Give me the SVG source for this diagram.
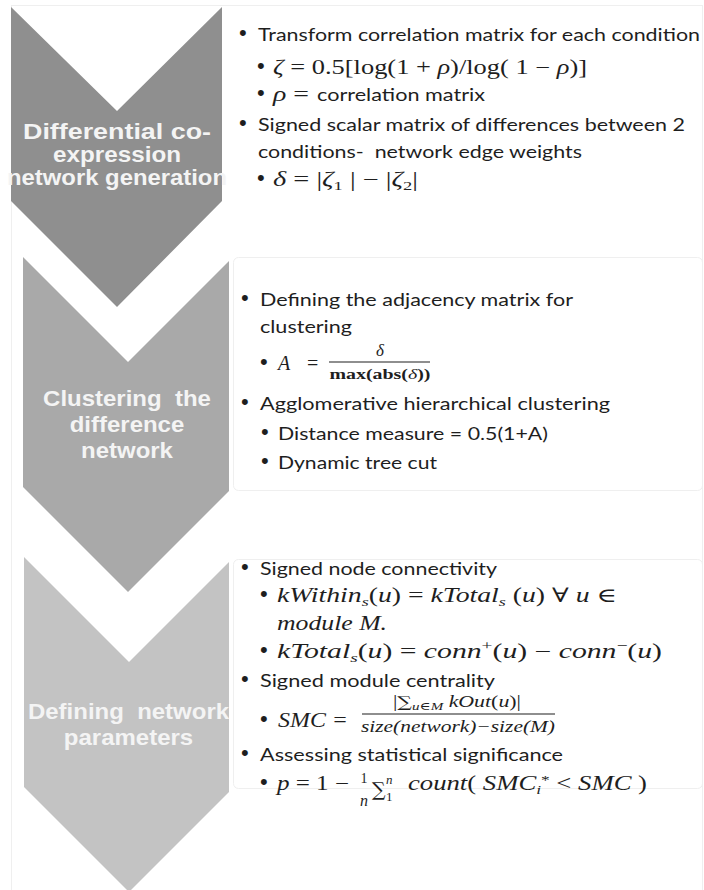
<svg xmlns="http://www.w3.org/2000/svg" width="704" height="890" viewBox="0 0 704 890">
<style>
.t{font-family:Lato,"Liberation Sans",sans-serif;font-size:18px;fill:#1e1e1e}
.m{font-family:"Liberation Serif","DejaVu Serif",serif;font-size:20px;fill:#1e1e1e}
.i{font-style:italic}
.sg{font-family:"DejaVu Serif",serif}
.bu{font-family:"Liberation Sans",Arial,sans-serif;font-size:22px;fill:#1e1e1e}
.h{font-family:"Liberation Sans",Arial,sans-serif;font-weight:bold;font-size:22px;fill:#f4f4f4;text-anchor:middle}
.frame{fill:none;stroke:#efefef;stroke-width:1}
.c1{fill:#8f8f8f}
.c2{fill:#a9a9a9}
.c3{fill:#c3c3c3}
</style>
<rect width="704" height="890" fill="#ffffff"/>
<g id="frames">
<rect class="frame" x="11.5" y="5.5" width="691" height="890"/>
<rect class="frame" x="233.5" y="257.5" width="469" height="233" rx="5"/>
<rect class="frame" x="233.5" y="559.5" width="469" height="229" rx="5"/>
</g>
<g id="step1">
<polygon class="c1" points="11,7 117,111 222,7 222,201 117,307 11,201"/>
<text class="h" x="117" y="139" textLength="188" lengthAdjust="spacingAndGlyphs">Differential co-</text>
<text class="h" x="117" y="162" textLength="128" lengthAdjust="spacingAndGlyphs">expression</text>
<text class="h" x="117" y="185" textLength="220" lengthAdjust="spacingAndGlyphs">network generation</text>
</g>
<g id="step2">
<polygon class="c2" points="23,257 128,362 229,261 229,491 128,592 23,487"/>
<text class="h" transform="translate(127 0) scale(1.09 1)" x="0" y="406">Clustering&#160; the</text>
<text class="h" transform="translate(127 0) scale(1.09 1)" x="0" y="432">difference</text>
<text class="h" transform="translate(127 0) scale(1.09 1)" x="0" y="458">network</text>
</g>
<g id="step3">
<polygon class="c3" points="24,557 129,662 229,562 229,792 129,892 24,787"/>
<text class="h" transform="translate(128.5 0) scale(1.09 1)" x="0" y="719">Defining&#160; network</text>
<text class="h" transform="translate(128.5 0) scale(1.09 1)" x="0" y="745">parameters</text>
</g>
<g id="text1">
<text class="bu" x="239" y="40">•</text>
<text class="t" x="258" y="41" textLength="442" lengthAdjust="spacingAndGlyphs">Transform correlation matrix for each condition</text>
<text class="bu" x="257" y="73">•</text>
<text class="m" x="273" y="74" textLength="314" lengthAdjust="spacingAndGlyphs"><tspan class="i">ζ</tspan> = 0.5[log(1 + <tspan class="i">ρ</tspan>)/log( 1 − <tspan class="i">ρ</tspan>)]</text>
<text class="bu" x="257" y="100">•</text>
<text class="m" x="273" y="101" textLength="36" lengthAdjust="spacingAndGlyphs"><tspan class="i">ρ</tspan> =</text>
<text class="t" x="317" y="101" textLength="168" lengthAdjust="spacingAndGlyphs">correlation matrix</text>
<text class="bu" x="239" y="130">•</text>
<text class="t" x="258" y="131" textLength="427" lengthAdjust="spacingAndGlyphs">Signed scalar matrix of differences between 2</text>
<text class="t" x="258" y="158" textLength="324" lengthAdjust="spacingAndGlyphs">conditions-&#160; network edge weights</text>
<text class="bu" x="257" y="185">•</text>
<text class="m" x="273" y="186" textLength="145" lengthAdjust="spacingAndGlyphs"><tspan class="i">δ</tspan> = |<tspan class="i">ζ</tspan><tspan style="font-size:13px" dy="4">1</tspan><tspan dy="-4"> | − |</tspan><tspan class="i">ζ</tspan><tspan style="font-size:13px" dy="4">2</tspan><tspan dy="-4">|</tspan></text>
</g>
<g id="text2">
<text class="bu" x="241" y="305">•</text>
<text class="t" x="260" y="306" textLength="313" lengthAdjust="spacingAndGlyphs">Defining the adjacency matrix for</text>
<text class="t" x="260" y="333" textLength="92" lengthAdjust="spacingAndGlyphs">clustering</text>
<text class="bu" x="260" y="369">•</text>
<text class="m i" x="278" y="370">A</text>
<text class="m" x="307" y="370">=</text>
<text class="m i" x="380" y="356" style="font-size:17px" text-anchor="middle">δ</text>
<line x1="329" y1="362" x2="430" y2="362" stroke="#1e1e1e" stroke-width="1.2"/>
<text class="m" x="380" y="379" style="font-size:15px;font-weight:bold" text-anchor="middle" textLength="101" lengthAdjust="spacingAndGlyphs">max(abs(<tspan class="i" style="font-weight:normal">δ</tspan>))</text>
<text class="bu" x="241" y="409">•</text>
<text class="t" x="260" y="410" textLength="350" lengthAdjust="spacingAndGlyphs">Agglomerative hierarchical clustering</text>
<text class="bu" x="261" y="439">•</text>
<text class="t" x="278" y="440" textLength="270" lengthAdjust="spacingAndGlyphs">Distance measure = 0.5(1+A)</text>
<text class="bu" x="261" y="468">•</text>
<text class="t" x="278" y="469" textLength="159" lengthAdjust="spacingAndGlyphs">Dynamic tree cut</text>
</g>
<g id="text3">
<text class="bu" x="241" y="574">•</text>
<text class="t" x="260" y="575" textLength="237" lengthAdjust="spacingAndGlyphs">Signed node connectivity</text>
<text class="bu" x="260" y="601">•</text>
<text class="m" x="277" y="602" textLength="340" lengthAdjust="spacingAndGlyphs"><tspan class="i">kWithin</tspan><tspan class="i" style="font-size:13px" dy="4">s</tspan><tspan dy="-4">(</tspan><tspan class="i">u</tspan>) = <tspan class="i">kTotal</tspan><tspan class="i" style="font-size:13px" dy="4">s</tspan><tspan dy="-4"> (</tspan><tspan class="i">u</tspan>) ∀ <tspan class="i">u</tspan> ∈</text>
<text class="m i" x="277" y="630" textLength="110" lengthAdjust="spacingAndGlyphs">module M.</text>
<text class="bu" x="260" y="657">•</text>
<text class="m" x="277" y="658" textLength="385" lengthAdjust="spacingAndGlyphs"><tspan class="i">kTotal</tspan><tspan class="i" style="font-size:13px" dy="4">s</tspan><tspan dy="-4">(</tspan><tspan class="i">u</tspan>)  =  <tspan class="i">conn</tspan><tspan style="font-size:13px" dy="-8">+</tspan><tspan dy="8">(</tspan><tspan class="i">u</tspan>)  −  <tspan class="i">conn</tspan><tspan style="font-size:13px" dy="-8">−</tspan><tspan dy="8">(</tspan><tspan class="i">u</tspan>)</text>
<text class="bu" x="241" y="686">•</text>
<text class="t" x="260" y="687" textLength="235" lengthAdjust="spacingAndGlyphs">Signed module centrality</text>
<text class="bu" x="260" y="726">•</text>
<text class="m i" x="278" y="727" textLength="70" lengthAdjust="spacingAndGlyphs">SMC =</text>
<text class="m" x="457" y="707" style="font-size:16px" text-anchor="middle" textLength="128" lengthAdjust="spacingAndGlyphs">|<tspan class="sg" style="font-size:15px">∑</tspan><tspan class="i" style="font-size:11px" dy="3">u∈M</tspan><tspan class="i" dy="-3"> kOut</tspan>(<tspan class="i">u</tspan>)|</text>
<line x1="362" y1="714" x2="555" y2="714" stroke="#1e1e1e" stroke-width="1.2"/>
<text class="m i" x="458" y="732" style="font-size:16px" text-anchor="middle" textLength="194" lengthAdjust="spacingAndGlyphs">size(network)−size(M)</text>
<text class="bu" x="241" y="760">•</text>
<text class="t" x="260" y="761" textLength="303" lengthAdjust="spacingAndGlyphs">Assessing statistical significance</text>
<text class="bu" x="260" y="789">•</text>
<text class="m" x="277" y="790" textLength="72" lengthAdjust="spacingAndGlyphs"><tspan class="i">p</tspan> = 1 −</text>
<text class="m" x="364" y="783" style="font-size:14px" text-anchor="middle">1</text>
<text class="m i" x="364" y="806" style="font-size:16px" text-anchor="middle">n</text>
<text class="m sg" x="372" y="796" style="font-size:19px">∑</text>
<text class="m" x="386" y="801" style="font-size:13px">1</text>
<text class="m i" x="386" y="784" style="font-size:13px">n</text>
<text class="m" x="408" y="790" textLength="239" lengthAdjust="spacingAndGlyphs"><tspan class="i">count</tspan>( <tspan class="i">SMC</tspan><tspan class="i" style="font-size:13px" dy="4">i</tspan><tspan style="font-size:13px" dy="-10">*</tspan><tspan dy="6"> &lt;  </tspan><tspan class="i">SMC</tspan> )</text>
</g>
</svg>
